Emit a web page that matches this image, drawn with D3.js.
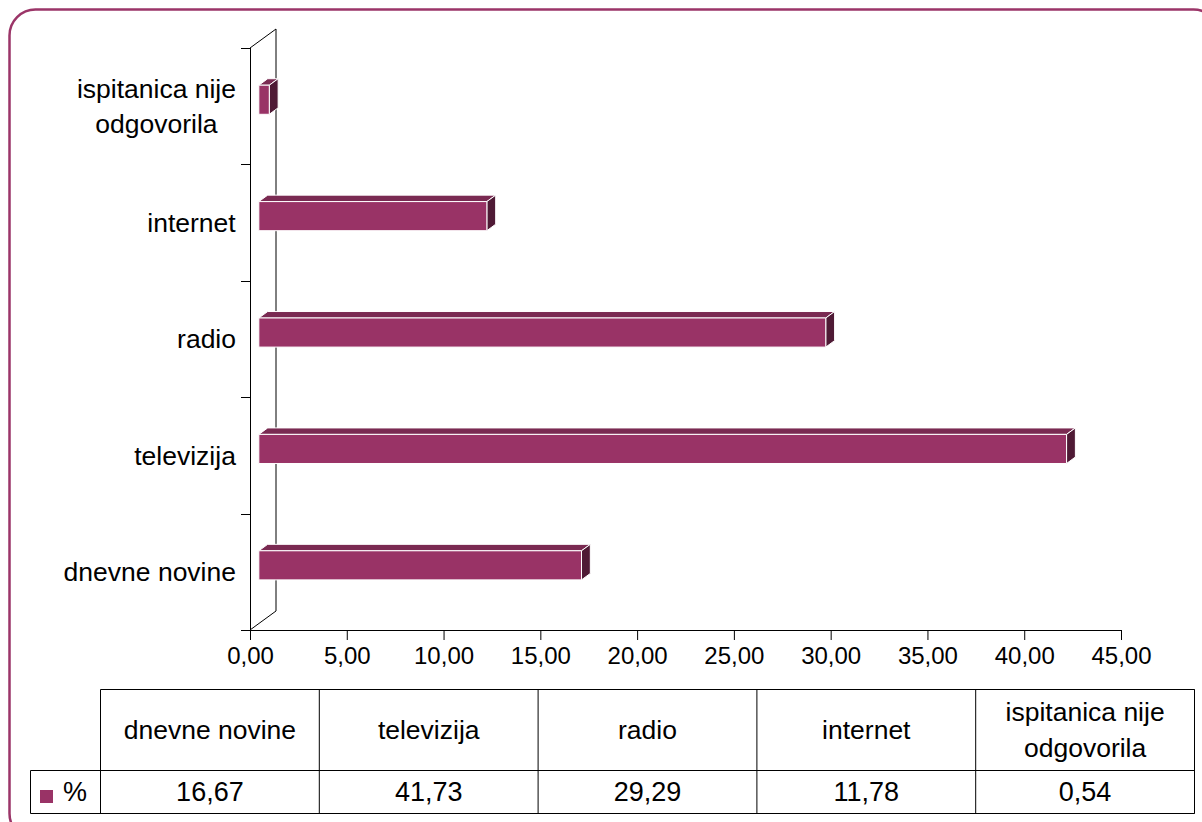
<!DOCTYPE html>
<html><head><meta charset="utf-8">
<script src="https://cdn.jsdelivr.net/npm/d3@7"></script>
<style>html,body{margin:0;padding:0;background:#fff;}svg{display:block;font-family:"Liberation Sans",Arial,sans-serif;}</style>
</head><body>
<svg id="c" width="1202" height="822"></svg>
<script>
const categories = ["dnevne novine", "televizija", "radio", "internet", "ispitanica nije odgovorila"];
const labelLines = [["dnevne novine"], ["televizija"], ["radio"], ["internet"], ["ispitanica nije", "odgovorila"]];
const values = [16.67, 41.73, 29.29, 11.78, 0.54];
const valueLabels = ["16,67", "41,73", "29,29", "11,78", "0,54"];
const xTicks = [0, 5, 10, 15, 20, 25, 30, 35, 40, 45];
const seriesName = "%";

const svg = d3.select("#c");
const FONT = 24, LFONT = 26.5, VFONT = 27;
const col = "#993366", colTop = "#7a2a52", colSide = "#4f1a35";

// frame
svg.append("rect").attr("x", 9.5).attr("y", 9.5).attr("width", 1210).attr("height", 830)
  .attr("rx", 26).attr("fill", "none").attr("stroke", "#9b3568").attr("stroke-width", 2.5);

const x = d3.scaleLinear().domain([0, 45]).range([250, 1121]);
const yOrder = categories.slice().reverse();
const y = d3.scaleBand().domain(yOrder).range([48, 630]);
const DX = 26, DY = -19;

const g = svg.append("g");
// back wall vertical edge and diagonals
g.append("line").attr("x1", x(0) + DX).attr("x2", x(0) + DX).attr("y1", y.range()[0] + DY).attr("y2", y.range()[1] + DY).attr("stroke", "#000").attr("stroke-width", 1);
g.append("line").attr("x1", x(0)).attr("x2", x(0) + DX).attr("y1", y.range()[0]).attr("y2", y.range()[0] + DY).attr("stroke", "#000");
g.append("line").attr("x1", x(0)).attr("x2", x(0) + DX).attr("y1", y.range()[1]).attr("y2", y.range()[1] + DY).attr("stroke", "#000");

// x axis
const xAxis = d3.axisBottom(x).tickValues(xTicks).tickSize(10).tickSizeOuter(0)
  .tickFormat(d => d3.format(".2f")(d).replace(".", ","));
const xa = g.append("g").attr("transform", `translate(0,${y.range()[1]})`).call(xAxis);
xa.select(".domain").attr("d", `M${x(0) - 9},0.5H${x(45)}`).attr("stroke", "#000");
xa.selectAll(".tick line").attr("stroke", "#000");
xa.selectAll(".tick text").attr("font-size", FONT).attr("fill", "#000").attr("font-family", "Liberation Sans, Arial, sans-serif").attr("dy", "1.0em").attr("y", 10);

// y axis (front edge) with ticks at category boundaries
g.append("line").attr("x1", x(0) + 0.5).attr("x2", x(0) + 0.5).attr("y1", y.range()[0]).attr("y2", y.range()[1]).attr("stroke", "#000");
const bounds = yOrder.map(c => y(c)).concat([y.range()[1]]);
g.selectAll(".ytick").data(bounds).enter().append("line")
  .attr("x1", x(0) - 9).attr("x2", x(0)).attr("y1", d => Math.round(d) + 0.5).attr("y2", d => Math.round(d) + 0.5).attr("stroke", "#000");

// y labels
categories.forEach((c, i) => {
  const lines = labelLines[i];
  const cy = y(c) + y.bandwidth() / 2;
  const lh = LFONT * 1.3;
  const t = g.append("text").attr("text-anchor", "middle").attr("font-size", LFONT).attr("fill", "#000");
  lines.forEach((ln, j) => {
    t.append("tspan").attr("x", 0).attr("y", cy + (j - (lines.length - 1) / 2) * lh).attr("dy", "0.35em").text(ln);
  });
  const w = t.node().getBBox().width;
  t.attr("transform", `translate(${236 - w / 2},0)`);
});

// bars (3D)
const f1 = 0.34, f2 = 0.68;
const fx = DX * f1, fy = DY * f1, bx = DX * (f2 - f1), by = DY * (f2 - f1);
const barH = y.bandwidth() * 0.25;
const bars = g.append("g");
categories.forEach((c, i) => {
  const x0 = x(0) + fx, x1 = x(values[i]) + fx;
  const yc = y(c) + y.bandwidth() / 2 + fy;
  const yt = yc - barH / 2, yb = yc + barH / 2;
  const bg = bars.append("g").attr("stroke", "#fff").attr("stroke-width", 1).attr("stroke-linejoin", "round");
  bg.append("path").attr("d", `M${x0},${yt}L${x1},${yt}L${x1 + bx},${yt + by}L${x0 + bx},${yt + by}Z`).attr("fill", colTop);
  bg.append("path").attr("d", `M${x1},${yt}L${x1 + bx},${yt + by}L${x1 + bx},${yb + by}L${x1},${yb}Z`).attr("fill", colSide);
  bg.append("rect").attr("x", x0).attr("y", yt).attr("width", x1 - x0).attr("height", barH).attr("fill", col);
});

// data table
const tTop = 689.5, tMid = 770.5, tBot = 813.5, tLeft = 30.5, c0 = 100.5, tRight = 1194.5;
const colX = d3.scaleBand().domain(categories).range([c0, tRight]);
const tg = svg.append("g").attr("stroke", "#000").attr("stroke-width", 1).attr("fill", "none");
tg.append("path").attr("d", `M${c0},${tTop}H${tRight}V${tBot}H${tLeft}V${tMid}H${tRight}M${c0},${tTop}V${tBot}`);
categories.forEach(c => {
  tg.append("line").attr("x1", colX(c) + colX.bandwidth()).attr("x2", colX(c) + colX.bandwidth()).attr("y1", tTop).attr("y2", tBot);
});
const tt = svg.append("g").attr("fill", "#000").attr("text-anchor", "middle");
categories.forEach((c, i) => {
  const lines = labelLines[i];
  const cx = colX(c) + colX.bandwidth() / 2;
  const cy = (tTop + tMid) / 2;
  const lh = LFONT * 1.35;
  const t = tt.append("text").attr("font-size", LFONT);
  lines.forEach((ln, j) => {
    t.append("tspan").attr("x", cx).attr("y", cy + (j - (lines.length - 1) / 2) * lh).attr("dy", "0.35em").text(ln);
  });
  tt.append("text").attr("font-size", VFONT).attr("x", cx).attr("y", (tMid + tBot) / 2).attr("dy", "0.35em").text(valueLabels[i]);
});
// legend key
svg.append("rect").attr("x", 40).attr("y", 790).attr("width", 13).attr("height", 13).attr("fill", col);
svg.append("text").attr("x", 63).attr("y", (tMid + tBot) / 2).attr("dy", "0.35em").attr("font-size", VFONT).attr("fill", "#000").text(seriesName);
</script>
</body></html>
